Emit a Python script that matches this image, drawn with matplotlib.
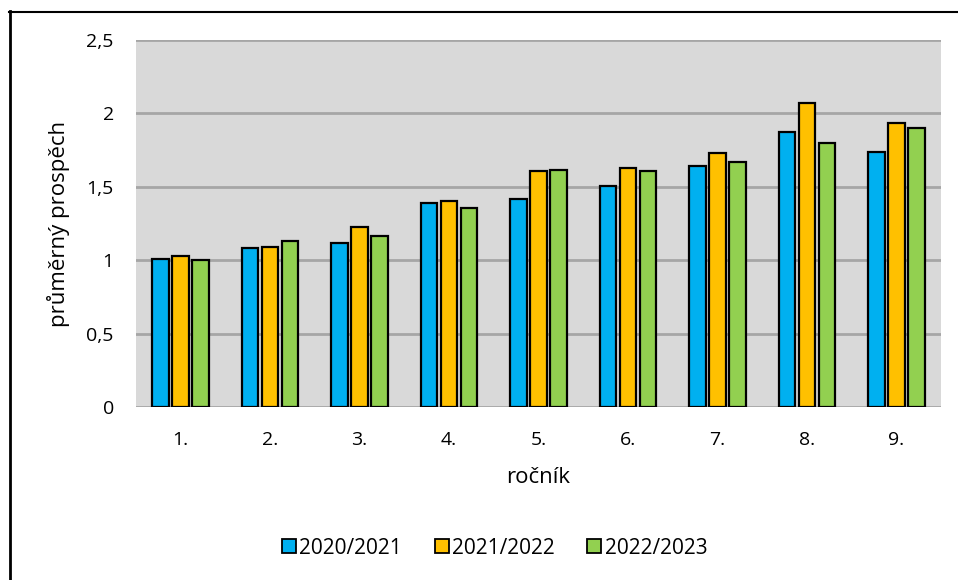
import matplotlib.pyplot as plt
import matplotlib.ticker as mticker
from matplotlib.lines import Line2D
import numpy as np

plt.rcParams['font.family'] = ['Open Sans', 'DejaVu Sans']

# data
rocniky = ["1.", "2.", "3.", "4.", "5.", "6.", "7.", "8.", "9."]
roky = ["2020/2021", "2021/2022", "2022/2023"]
r2020 = [1.01, 1.085, 1.115, 1.39, 1.42, 1.505, 1.64, 1.87, 1.735]
r2021 = [1.03, 1.09, 1.225, 1.40, 1.605, 1.625, 1.73, 2.07, 1.935]
r2022 = [1.00, 1.13, 1.165, 1.355, 1.615, 1.61, 1.67, 1.80, 1.90]
barvy = ["#00b0f0", "#ffc000", "#92d050"]

fig = plt.figure(figsize=(9.58, 5.8), dpi=100)
ax = fig.add_axes([136/958, 1-407/580, (941-136)/958, (407-40)/580])
ax.set_facecolor("#d9d9d9")

x = np.arange(len(rocniky))
sirka = 0.185
krok = 0.224
for i, (vals, c) in enumerate(zip([r2020, r2021, r2022], barvy)):
    ax.bar(x + (i - 1) * krok, vals, sirka, color=c, edgecolor="black",
           linewidth=1.6, zorder=3)

ax.set_xlim(-0.5, len(rocniky) - 0.5)
ax.set_ylim(0, 2.5)
ax.set_yticks(np.arange(0, 2.51, 0.5))
ax.yaxis.set_major_formatter(mticker.FuncFormatter(
    lambda v, p: ("%g" % v).replace(".", ",")))
ax.set_xticks(x)
ax.set_xticklabels(rocniky)
ax.grid(axis="y", color="#a6a6a6", linewidth=2, zorder=0)
ax.set_axisbelow(True)
for s in ax.spines.values():
    s.set_visible(False)
ax.tick_params(length=0, labelsize=14)
ax.tick_params(axis="y", pad=16)
ax.tick_params(axis="x", pad=17.5)

ax.set_xlabel("ročník", fontsize=16, labelpad=13)
ax.set_ylabel("průměrný prospěch", fontsize=16, labelpad=12)

handles = [Line2D([], [], marker="s", linestyle="none", markersize=10,
                  markerfacecolor=c, markeredgecolor="black", markeredgewidth=1.3)
           for c in barvy]
fig.legend(handles, roky, loc="center", bbox_to_anchor=(494/958, 1-548/580),
           ncol=3, frameon=False, fontsize=15, handletextpad=0.1,
           columnspacing=1.5, handlelength=0.8)

# okraj grafu
fig.add_artist(Line2D([9.5/958, 9.5/958], [0, 1-11/580], color="black", linewidth=2))
fig.add_artist(Line2D([9/958, 1], [1-11.5/580, 1-11.5/580], color="black", linewidth=1.5))

fig.savefig("out.png", dpi=100)
